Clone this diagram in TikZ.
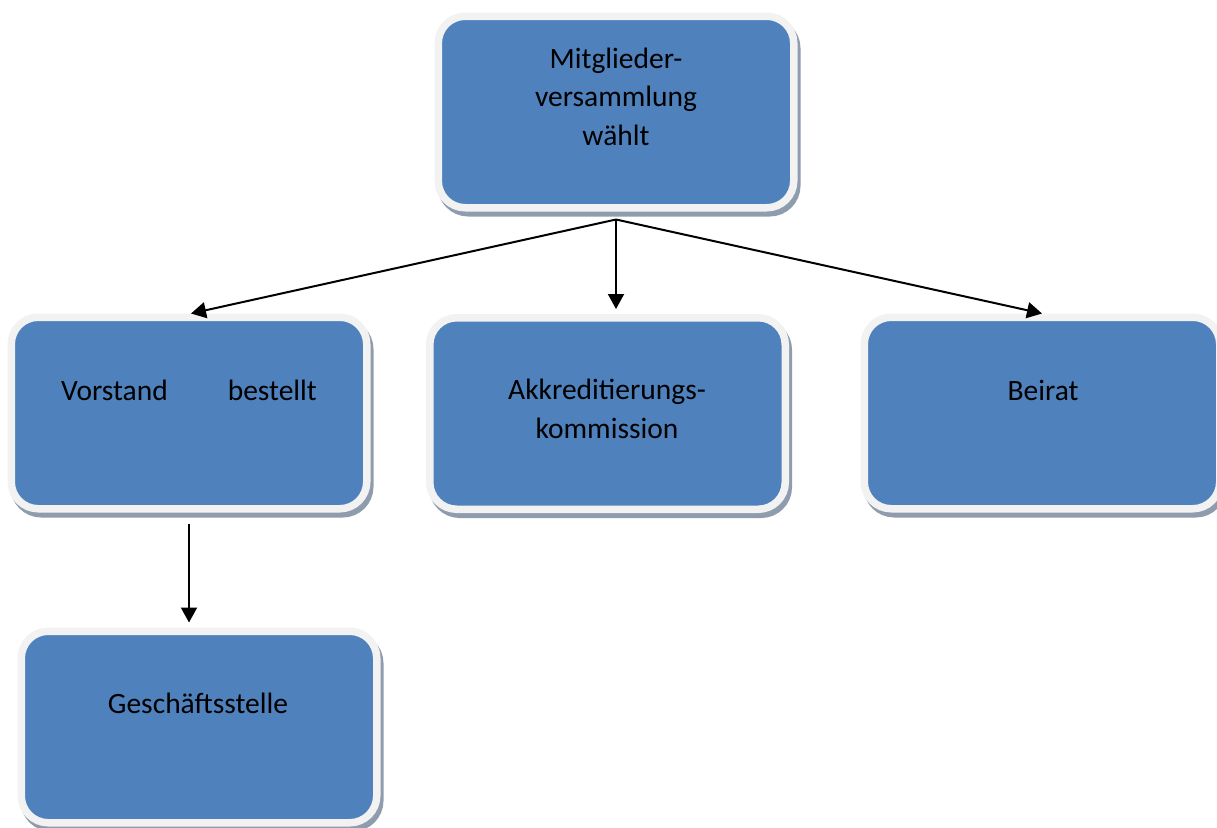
\documentclass[tikz,border=0pt]{standalone}
\usepackage{fontspec}
\setmainfont{Carlito}
\usetikzlibrary{arrows.meta,shadows,calc}
\definecolor{boxblue}{HTML}{4F81BD}
\definecolor{boxrim}{HTML}{F2F2F2}
\definecolor{boxshade}{HTML}{8E9CAE}
\begin{document}
\begin{tikzpicture}[x=1pt,y=-1pt,
  orgbox/.style={rectangle, rounded corners=27pt, minimum width=355.5pt, minimum height=191.5pt,
    inner sep=0pt, fill=boxblue, draw=boxrim, line width=7.5pt,
    drop shadow={shadow xshift=3pt, shadow yshift=-5pt, fill=boxshade, draw=boxshade, line width=7.5pt, opacity=1}},
  lbl/.style={font=\fontsize{29.5}{38.5}\selectfont, align=center, inner sep=0pt, anchor=base, text=black},
  conn/.style={line width=2pt, -{Triangle[length=15pt,width=16pt]}}]
\useasboundingbox (0,0) rectangle (1217,827);
\clip (0,0) rectangle (1217,827);
\fill[white] (0,0) rectangle (1217,827);
\node[orgbox] (mv) at (616,112) {};
\node[orgbox] (vor) at (189,413) {};
\node[orgbox] (akk) at (607.5,413.5) {};
\node[orgbox] (bei) at (1042,413) {};
\node[orgbox] (gst) at (199,727) {};
\node[lbl] (mvt) at (616,145) {Mitglieder-\\versammlung\\wählt};
\node[lbl] (vort) at (189,400) {Vorstand\hspace{60pt}bestellt};
\node[lbl] (akkt) at (607,438) {Akkreditierungs-\\kommission};
\node[lbl] (beit) at (1043,400) {Beirat};
\node[lbl] (gstt) at (198,713) {Geschäftsstelle};
\coordinate (j) at ($(mv.south)+(0,8)$);
\draw[conn] (j) -- ($(vor.north)+(2,0)$);
\draw[conn] (j) -- ($(j |- akk.north)+(0,-5)$);
\draw[conn] (j) -- (bei.north);
\draw[conn] ($(vor.south)+(0,11)$) -- ($(vor.south |- gst.north)+(0,-5)$);
\end{tikzpicture}
\end{document}
